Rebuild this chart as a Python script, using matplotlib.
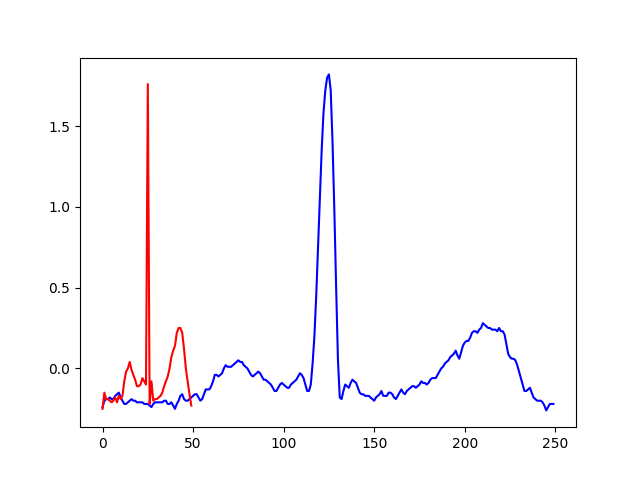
import matplotlib
matplotlib.use('Agg')
import matplotlib.pyplot as plt

# long trace (blue)
blue_vals = [
    -0.24, -0.20, -0.19, -0.19, -0.18, -0.19, -0.19, -0.17, -0.16, -0.15,
    -0.18, -0.20, -0.22, -0.22, -0.21, -0.20, -0.19, -0.20, -0.20, -0.21,
    -0.21, -0.21, -0.21, -0.22, -0.22, -0.22, -0.23, -0.24, -0.22, -0.21,
    -0.21, -0.21, -0.21, -0.21, -0.20, -0.20, -0.22, -0.22, -0.21, -0.23,
    -0.25, -0.22, -0.20, -0.17, -0.16, -0.19, -0.20, -0.20, -0.19, -0.18,
    -0.17, -0.16, -0.16, -0.18, -0.20, -0.19, -0.16, -0.13, -0.13, -0.13,
    -0.11, -0.08, -0.04, -0.04, -0.05, -0.04, -0.03, 0.00, 0.02, 0.01,
    0.01, 0.01, 0.02, 0.03, 0.04, 0.05, 0.04, 0.04, 0.02, 0.01,
    0.00, -0.02, -0.04, -0.05, -0.04, -0.03, -0.02, -0.03, -0.05, -0.07,
    -0.07, -0.08, -0.09, -0.10, -0.12, -0.14, -0.14, -0.12, -0.10, -0.09,
    -0.10, -0.11, -0.12, -0.12, -0.10, -0.09, -0.08, -0.07, -0.05, -0.03,
    -0.04, -0.06, -0.10, -0.14, -0.14, -0.10, 0.03, 0.20, 0.45, 0.75,
    1.05, 1.35, 1.58, 1.72, 1.80, 1.82, 1.72, 1.40, 0.98, 0.50,
    0.05, -0.18, -0.19, -0.14, -0.10, -0.11, -0.12, -0.09, -0.07, -0.08,
    -0.09, -0.12, -0.15, -0.16, -0.16, -0.17, -0.17, -0.17, -0.18, -0.19,
    -0.20, -0.18, -0.17, -0.16, -0.14, -0.17, -0.17, -0.17, -0.15, -0.15,
    -0.16, -0.18, -0.19, -0.17, -0.15, -0.13, -0.15, -0.16, -0.14, -0.13,
    -0.12, -0.11, -0.11, -0.12, -0.11, -0.10, -0.08, -0.09, -0.09, -0.10,
    -0.09, -0.07, -0.06, -0.06, -0.06, -0.04, -0.02, 0.00, 0.01, 0.03,
    0.04, 0.05, 0.07, 0.08, 0.09, 0.11, 0.08, 0.06, 0.10, 0.14,
    0.16, 0.17, 0.17, 0.19, 0.22, 0.23, 0.23, 0.22, 0.24, 0.25,
    0.28, 0.27, 0.26, 0.25, 0.25, 0.24, 0.24, 0.24, 0.23, 0.25,
    0.23, 0.23, 0.21, 0.15, 0.09, 0.07, 0.06, 0.06, 0.05, 0.02,
    -0.02, -0.06, -0.10, -0.14, -0.14, -0.13, -0.12, -0.15, -0.18, -0.19,
    -0.20, -0.20, -0.20, -0.21, -0.23, -0.26, -0.24, -0.22, -0.22, -0.22,
]

# short trace (red)
red_vals = [
    -0.25, -0.15, -0.19, -0.19, -0.20, -0.21, -0.20, -0.18, -0.21, -0.17,
    -0.19, -0.17, -0.08, -0.02, 0.00, 0.04, -0.01, -0.04, -0.07, -0.11,
    -0.11, -0.10, -0.06, -0.08, -0.10, 1.76, -0.22, -0.08, -0.20, -0.19,
    -0.19, -0.18, -0.17, -0.15, -0.11, -0.08, -0.05, 0.00, 0.07, 0.11,
    0.14, 0.22, 0.25, 0.25, 0.22, 0.12, 0.00, -0.08, -0.16, -0.23,
]

fig, ax = plt.subplots(figsize=(6.4, 4.8), dpi=100)
ax.plot(range(len(blue_vals)), blue_vals, color='blue')
ax.plot(range(len(red_vals)), red_vals, color='red')

plt.savefig("out.png", dpi=100)
plt.close()
